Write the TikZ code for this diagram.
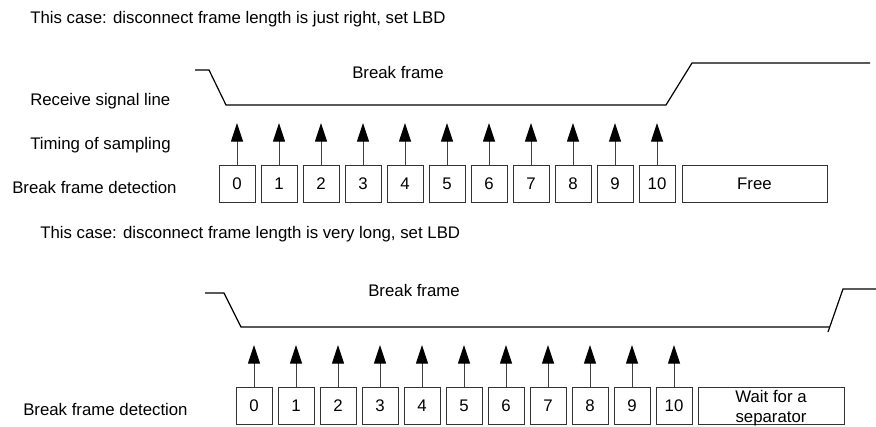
\documentclass[tikz,border=0pt]{standalone}
\usepackage{fontspec}
\setmainfont{Liberation Sans}
\usetikzlibrary{arrows.meta}

\tikzset{
  lbl/.style={anchor=base west, inner sep=0pt},
  slot/.style={draw=black!80, line width=0.75pt, minimum width=27pt, minimum height=27.75pt, inner sep=0pt},
  sample/.style={draw=black!75, line width=0.75pt, -{Triangle[length=14pt,width=9pt,color=black]}},
  signal/.style={line width=0.9pt},
}

\begin{document}
\begin{tikzpicture}[x=0.75pt, y=-0.75pt, every node/.style={font=\fontsize{12.6}{15}\selectfont}]
	\useasboundingbox (0,0) rectangle (876,426);
	% first case
	\node[lbl] (title1) at (30,23) {This case: disconnect frame length is just right, set LBD};
	\node[lbl] (brk1) at (352,78) {Break frame};
	\node[lbl] (rx1) at (30,105) {Receive signal line};
	\node[lbl] (ts1) at (30,149) {Timing of sampling};
	\node[lbl] (det1) at (12,193) {Break frame detection};
	
	\draw[signal] (195,70) -- (209,70) -- (226,105) -- (666,105) -- (692,63) -- (870,63);
	
	\foreach \i in {0,...,10} {
		\node[slot] (a\i) at ({237+42*\i},183.5) {\i};
		\coordinate (ta\i) at ({237+42*\i},123);
		\draw[sample] (a\i.north) -- (ta\i);
	}
	\node[slot, minimum width=108.75pt] (free) at (754.5,183.5) {Free};
	
	% second case
	\node[lbl] (title2) at (40,238) {This case: disconnect frame length is very long, set LBD};
	\node[lbl] (brk2) at (368,296) {Break frame};
	\node[lbl] (det2) at (23,415) {Break frame detection};
	
	\draw[signal] (205,293) -- (224,293) -- (241,327) -- (829,327);
	\draw[signal] (828,332) -- (843,289) -- (876,289);
	
	\foreach \i in {0,...,10} {
		\node[slot] (b\i) at ({254+42*\i},405.5) {\i};
		\coordinate (tb\i) at ({254+42*\i},345);
		\draw[sample] (b\i.north) -- (tb\i);
	}
	\node[slot, minimum width=109.5pt] (wait) at (771,405.5) {};
	\node[align=center, inner sep=0pt] (waittxt) at (771,408.6) {Wait for a\\separator};
\end{tikzpicture}
\end{document}
